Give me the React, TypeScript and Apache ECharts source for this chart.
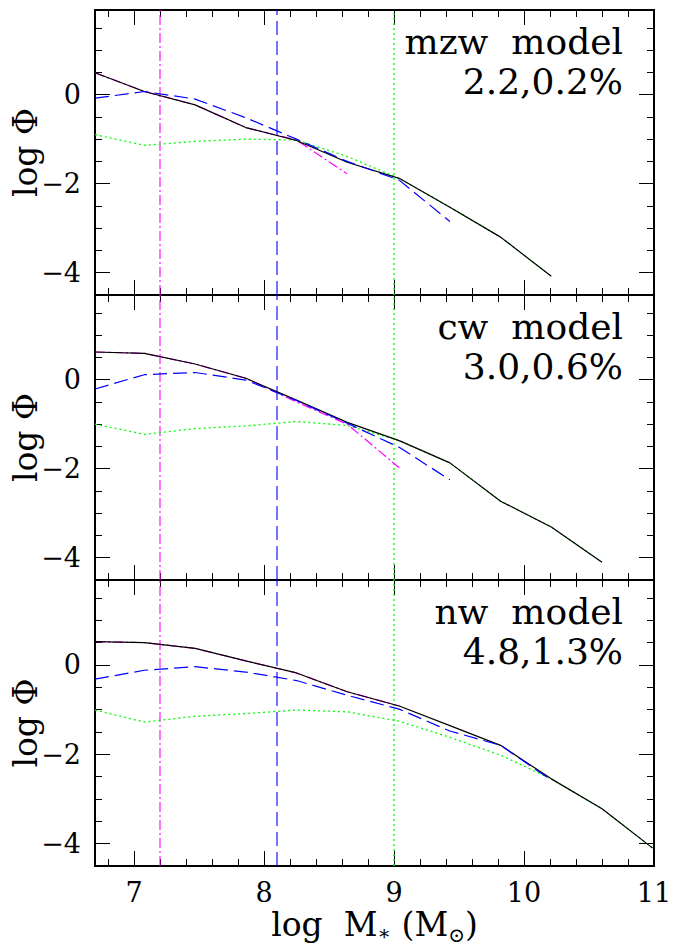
import { useEffect, useRef } from 'react';
import * as echarts from 'echarts';

// Stellar mass grid (log M*, solar masses) shared by all model curves
const logMass = [6.7, 7.08, 7.47, 7.86, 8.25, 8.64, 9.04, 9.43, 9.82, 10.21, 10.6, 10.99];

const modelNames = ['mzw  model', 'cw  model', 'nw  model'];
const modelParams = ['2.2,0.2%', '3.0,0.6%', '4.8,1.3%'];

// mzw model: log Phi of each component
const mzwTotal = [0.49, 0.07, -0.23, -0.74, -1.03, -1.52, -1.88, -2.53, -3.2, -4.08];
const mzwDashDot = [0.49, 0.07, -0.23, -0.74, -1.02, -1.78];
const mzwDashed = [-0.08, 0.07, -0.1, -0.52, -1.0, -1.5, -1.92, -2.85];
const mzwDotted = [-0.9, -1.14, -1.05, -1.0, -1.02, -1.39, -1.88, -2.53, -3.2, -4.08];

// cw model
const cwTotal = [0.62, 0.59, 0.35, 0.03, -0.46, -0.96, -1.37, -1.87, -2.73, -3.31, -4.1];
const cwDashDot = [0.62, 0.59, 0.35, 0.03, -0.5, -1.0, -1.98];
const cwDashed = [-0.21, 0.11, 0.16, -0.01, -0.47, -0.98, -1.52, -2.25];
const cwDotted = [-1.0, -1.23, -1.1, -1.04, -0.94, -1.03, -1.37, -1.87, -2.73, -3.31, -4.1];

// nw model
const nwTotal = [0.52, 0.5, 0.37, 0.09, -0.18, -0.6, -0.92, -1.36, -1.8, -2.55, -3.22, -4.1];
const nwDashDot = [0.52, 0.5, 0.37, 0.09, -0.18, -0.6, -0.92];
const nwDashed = [-0.32, -0.12, -0.04, -0.16, -0.35, -0.68, -0.99, -1.48, -1.8, -2.58];
const nwDotted = [-1.01, -1.28, -1.15, -1.09, -1.01, -1.05, -1.26, -1.62, -2.02, -2.55, -3.22, -4.1];

// vertical reference masses (same in every panel)
const dashDotMass = [7.2];
const dashedMass = [8.1];
const dottedMass = [9.0];

// axis ticks
const xMajorTicks = [7, 8, 9, 10, 11];
const xMinorTicks = [6.8, 7, 7.2, 7.4, 7.6, 7.8, 8, 8.2, 8.4, 8.6, 8.8, 9, 9.2, 9.4, 9.6, 9.8, 10, 10.2, 10.4, 10.6, 10.8];
const yMajorTicks = [-4, -2, 0];
const yMinorTicks = [-4, -3.5, -3, -2.5, -2, -1.5, -1, -0.5, 0, 0.5, 1, 1.5];

const X_MIN = 6.7;
const X_MAX = 11;
const Y_MIN = -4.5;
const Y_MAX = 1.9;

const FONT = '"DejaVu Serif", "Liberation Serif", serif';

const panelTops = [10, 295, 580];
const panelHeights = [285, 285, 286];
const PLOT_LEFT = 95;
const PLOT_RIGHT = 654;

const panels = [
  { total: mzwTotal, dashDot: mzwDashDot, dashed: mzwDashed, dotted: mzwDotted },
  { total: cwTotal, dashDot: cwDashDot, dashed: cwDashed, dotted: cwDotted },
  { total: nwTotal, dashDot: nwDashDot, dashed: nwDashed, dotted: nwDotted },
];

const pairUp = (ys: number[]) => ys.map((y, i) => [logMass[i], y]);

const MAGENTA = '#ff00ff';
const BLUE = '#0000ff';
const GREEN = '#00ff00';

const minusFmt = (v: number) => (v < 0 ? '\u2212' + Math.abs(v) : String(v));

// x-axis title pieces: [text, font size, vertical offset of the glyph centre]
const xTitlePieces: [string, number, number][] = [
  ['log  M', 33, 0],
  ['\u2217', 20, 9],
  [' (M', 33, 0],
  ['\u2299', 20, 11],
  [')', 33, 0],
];

function measure(text: string, size: number) {
  const ctx = document.createElement('canvas').getContext('2d');
  if (!ctx) return text.length * size * 0.6;
  ctx.font = `${size}px "DejaVu Serif"`;
  return ctx.measureText(text).width;
}

function buildOption() {
  const grids: any[] = [];
  const xAxes: any[] = [];
  const yAxes: any[] = [];
  const series: any[] = [];
  const graphics: any[] = [];

  panels.forEach((p, g) => {
    const top = panelTops[g];
    const h = panelHeights[g];
    grids.push({ left: PLOT_LEFT, top, width: PLOT_RIGHT - PLOT_LEFT, height: h, containLabel: false });

    const makeX = (position: string, ticks: number[], len: number, labels: boolean) => ({
      type: 'value',
      gridIndex: g,
      position,
      min: X_MIN,
      max: X_MAX,
      axisLine: { show: true, onZero: false, lineStyle: { color: '#000', width: 2 } },
      axisTick: { show: true, inside: true, length: len, customValues: ticks, lineStyle: { color: '#000', width: 1 } },
      axisLabel: {
        show: labels,
        customValues: xMajorTicks,
        margin: 13,
        color: '#000',
        fontFamily: FONT,
        fontSize: 27,
        showMinLabel: true,
        showMaxLabel: true,
      },
      splitLine: { show: false },
    });
    const last = g === panels.length - 1;
    xAxes.push(makeX('bottom', xMajorTicks, 15, last));
    xAxes.push(makeX('bottom', xMinorTicks, 7, false));
    xAxes.push(makeX('top', xMajorTicks, 15, false));
    xAxes.push(makeX('top', xMinorTicks, 7, false));

    const makeY = (position: string, ticks: number[], len: number, labels: boolean) => ({
      type: 'value',
      gridIndex: g,
      position,
      min: Y_MIN,
      max: Y_MAX,
      axisLine: { show: true, onZero: false, lineStyle: { color: '#000', width: 2 } },
      axisTick: { show: true, inside: true, length: len, customValues: ticks, lineStyle: { color: '#000', width: 1 } },
      axisLabel: {
        show: labels,
        customValues: yMajorTicks,
        formatter: minusFmt,
        margin: 14,
        color: '#000',
        fontFamily: FONT,
        fontSize: 27,
      },
      splitLine: { show: false },
    });
    yAxes.push(makeY('left', yMajorTicks, 15, true));
    yAxes.push(makeY('left', yMinorTicks, 7, false));
    yAxes.push(makeY('right', yMajorTicks, 15, false));
    yAxes.push(makeY('right', yMinorTicks, 7, false));

    const axisRef = { xAxisIndex: g * 4, yAxisIndex: g * 4 };
    const line = (name: string, data: number[][], color: string, type: any, width: number, z: number) => ({
      type: 'line',
      name,
      ...axisRef,
      data,
      symbol: 'none',
      showSymbol: false,
      silent: true,
      z,
      lineStyle: { color, width, type },
    });

    // vertical reference lines
    dashDotMass.forEach((m) =>
      series.push(line('dashdot-ref', [[m, Y_MIN], [m, Y_MAX]], MAGENTA, [10, 3, 2, 3], 1.1, 1)),
    );
    dashedMass.forEach((m) =>
      series.push(line('dashed-ref', [[m, Y_MIN], [m, Y_MAX]], BLUE, [14, 6], 1.1, 1)),
    );
    dottedMass.forEach((m) =>
      series.push(line('dotted-ref', [[m, Y_MIN], [m, Y_MAX]], GREEN, [2, 3], 1.3, 1)),
    );

    // model components
    series.push(line('dotted', pairUp(p.dotted), GREEN, [2, 3], 1.3, 2));
    series.push(line('dashdot', pairUp(p.dashDot), MAGENTA, [10, 3, 2, 3], 1.2, 3));
    series.push(line('total', pairUp(p.total), '#000', 'solid', 1.2, 4));
    series.push(line('dashed', pairUp(p.dashed), BLUE, [14, 6], 1.2, 5));

    // model name and parameters
    graphics.push({
      type: 'text',
      x: 623,
      y: top + 31,
      style: { text: modelNames[g], fill: '#000', fontFamily: FONT, fontSize: 36, align: 'right', verticalAlign: 'middle' },
    });
    graphics.push({
      type: 'text',
      x: 623,
      y: top + 71,
      style: { text: modelParams[g], fill: '#000', fontFamily: FONT, fontSize: 36, align: 'right', verticalAlign: 'middle' },
    });

    // y-axis title
    graphics.push({
      type: 'text',
      x: 25,
      y: top + h / 2,
      rotation: Math.PI / 2,
      style: { text: 'log Φ', fill: '#000', fontFamily: FONT, fontSize: 33, align: 'center', verticalAlign: 'middle' },
    });
  });

  // x-axis title, laid out piece by piece so the subscripts sit low
  const widths = xTitlePieces.map(([t, s]) => measure(t, s));
  const totalW = widths.reduce((a, b) => a + b, 0);
  let cursor = (PLOT_LEFT + PLOT_RIGHT) / 2 - totalW / 2;
  const titleMid = 924;
  xTitlePieces.forEach(([t, s, dy], i) => {
    graphics.push({
      type: 'text',
      x: cursor,
      y: titleMid + dy,
      style: { text: t, fill: '#000', fontFamily: FONT, fontSize: s, align: 'left', verticalAlign: 'middle' },
    });
    cursor += widths[i];
  });

  return {
    animation: false,
    backgroundColor: '#fff',
    grid: grids,
    xAxis: xAxes,
    yAxis: yAxes,
    series,
    graphic: graphics,
  };
}

export default function App() {
  const ref = useRef<HTMLDivElement>(null);
  useEffect(() => {
    if (!ref.current) return;
    const chart = echarts.init(ref.current, undefined, { renderer: 'svg' });
    chart.setOption(buildOption() as any);
    return () => chart.dispose();
  }, []);
  return (
    <div
      ref={ref}
      style={{ position: 'absolute', left: 0, top: 0, width: 676, height: 947, background: '#fff' }}
    />
  );
}
